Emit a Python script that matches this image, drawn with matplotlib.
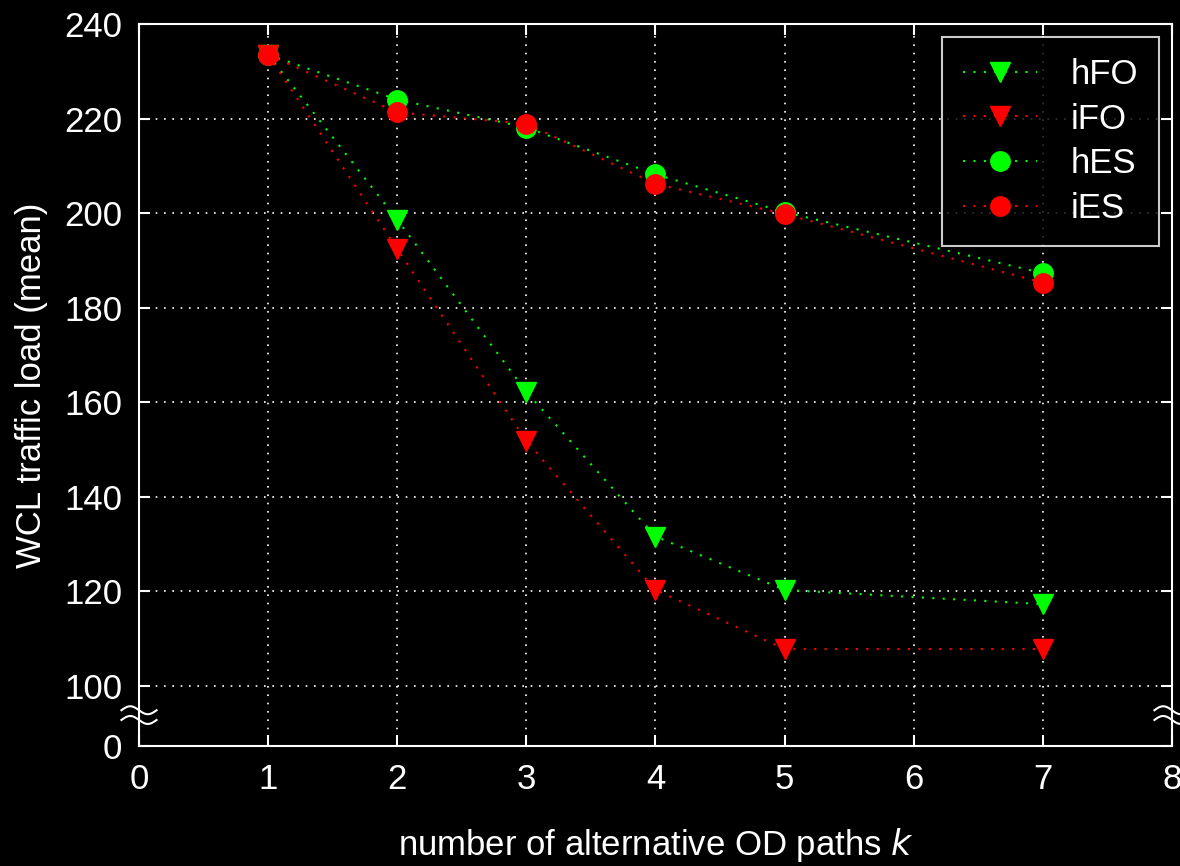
import numpy as np
import matplotlib
matplotlib.use("Agg")
import matplotlib.pyplot as plt

plt.rcParams['font.family'] = ['Liberation Sans', 'DejaVu Sans']

# data
k = [1, 2, 3, 4, 5, 7]
hFO = [233.5, 198.6, 162.2, 131.6, 120.3, 117.3]
iFO = [233.5, 192.4, 151.8, 120.3, 107.8, 107.8]
hES = [233.5, 224.0, 218.1, 208.2, 200.2, 187.3]
iES = [233.5, 221.3, 218.9, 206.2, 199.8, 185.3]
y_ticks = [100, 120, 140, 160, 180, 200, 220, 240]
x_ticks = list(range(0, 9))

# broken y axis: "0" sits just below 100
y_zero = 87.3

fig = plt.figure(figsize=(11.8, 8.66), dpi=100, facecolor='black')
ax = fig.add_axes([0.1178, 0.1386, 0.8754, 0.8337], facecolor='black')

green = '#00ff00'
red = '#ff0000'
line_kw = dict(lw=1.5, ls=(0, (1, 4)))

ax.plot(k, hFO, color=green, marker='v', ms=15, mec=green, label='hFO', **line_kw)
ax.plot(k, iFO, color=red, marker='v', ms=15, mec=red, label='iFO', **line_kw)
ax.plot(k, hES, color=green, marker='o', ms=14, mec=green, label='hES', **line_kw)
ax.plot(k, iES, color=red, marker='o', ms=14, mec=red, label='iES', **line_kw)

ax.set_xlim(0, 8)
ax.set_ylim(y_zero, 240)
ax.set_xticks(x_ticks)
ax.set_yticks([y_zero] + y_ticks)
ax.set_yticklabels(['0'] + [str(v) for v in y_ticks])

ax.grid(True, color='white', lw=1.2, ls=(0, (1, 4)))
for s in ax.spines.values():
    s.set_color('white')
    s.set_linewidth(1.5)
ax.tick_params(colors='white', labelsize=25, direction='in', length=8, width=1.5,
               top=True, right=True)
ax.tick_params(axis='x', pad=12)
ax.tick_params(axis='y', pad=12)

ax.set_xlabel('number of alternative OD paths $k$', color='white', fontsize=25, labelpad=22)
ax.set_ylabel('WCL traffic load (mean)', color='white', fontsize=25, labelpad=12)

# break marks on both y spines
t = np.linspace(0, 1, 60)
for x0 in (0.0, 1.0):
    for yc in (0.0495, 0.036):
        ax.plot(x0 - 0.017 + 0.034 * t, yc + 0.0055 * np.sin(2 * np.pi * t),
                color='white', lw=1.5, transform=ax.transAxes, clip_on=False)

leg = ax.legend(loc='upper right', fontsize=25, frameon=True, fancybox=False,
                facecolor='black', edgecolor='white', handlelength=2.15,
                labelspacing=0.34, borderpad=0.6, handletextpad=0.95,
                borderaxespad=0, bbox_to_anchor=(0.987, 0.982))
leg.get_frame().set_linewidth(1.5)
for txt in leg.get_texts():
    txt.set_color('white')

fig.savefig('out.png', dpi=100, facecolor='black')
